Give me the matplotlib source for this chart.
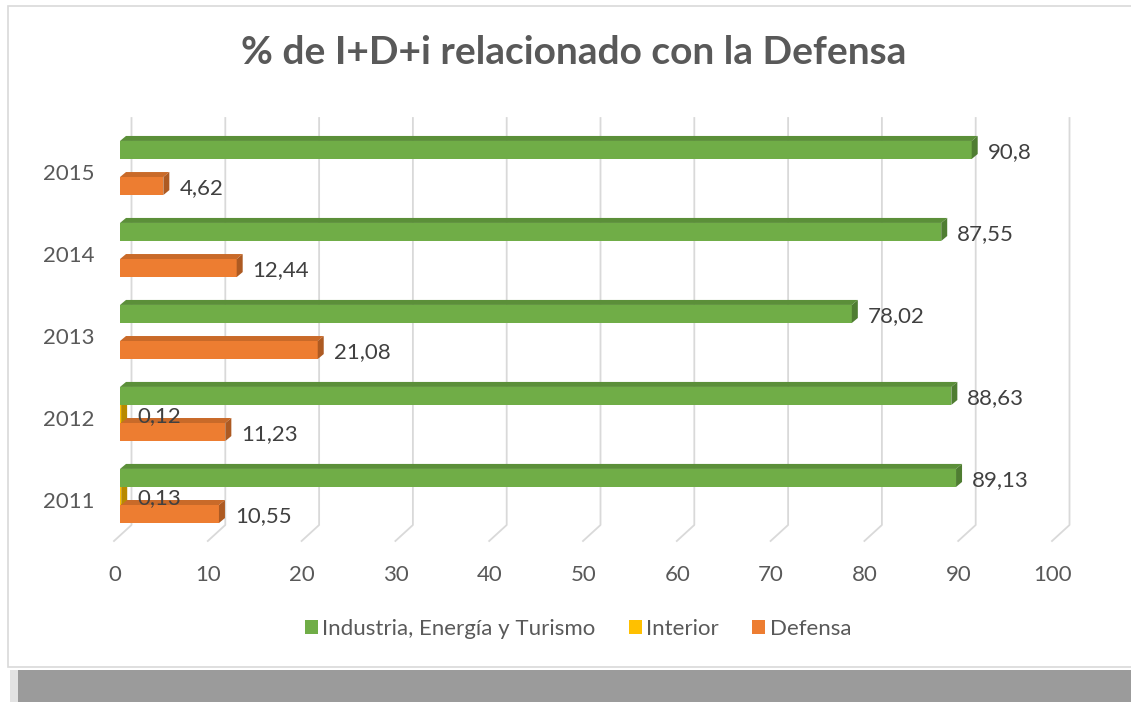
#!/usr/bin/python3

import numpy as np
import matplotlib
matplotlib.use('Agg')
import matplotlib.pyplot as plt
from matplotlib.patches import Polygon, Rectangle, Patch
from matplotlib.transforms import ScaledTranslation

# data (2011 at the bottom)
years = ['2011', '2012', '2013', '2014', '2015']
industria = [89.13, 88.63, 78.02, 87.55, 90.8]
interior = [0.13, 0.12, np.nan, np.nan, np.nan]
defensa = [10.55, 11.23, 21.08, 12.44, 4.62]

series_names = ['Industria, Energía y Turismo', 'Interior', 'Defensa']
front_colors = ['#70ad47', '#ffc000', '#ed7d31']
top_colors = ['#5b8f39', '#d9a300', '#c96a29']
side_colors = ['#4f7d32', '#b88a00', '#ad5a22']

plt.rcParams['font.family'] = ['Lato', 'DejaVu Sans']

W, H = 1131, 702


def fmt(v):
	return ('%g' % v).replace('.', ',')


def main():
	fig = plt.figure(figsize=(W / 100, H / 100), dpi=100)

	# frame of the chart and the grey band below it
	for r in [Rectangle((8 / W, 1 - 667 / H), 1.2, 661 / H, facecolor='white', edgecolor='#d9d9d9', linewidth=1.2),
			Rectangle((10 / W, 0), 1.0, 32 / H, facecolor='#e3e3e3', edgecolor='none'),
			Rectangle((18 / W, 0), 1.0, 32 / H, facecolor='#9b9b9b', edgecolor='none')]:
		r.set_transform(fig.transFigure)
		r.set_zorder(-10)
		fig.patches.append(r)

	left, right, top, bottom = 120, 1058, 118, 541
	ax = fig.add_axes([left / W, 1 - bottom / H, (right - left) / W, (bottom - top) / H])
	ax.set_xlim(0, 100)
	ylo, yhi = -0.549, 4.61
	ax.set_ylim(ylo, yhi)
	for s in ax.spines.values():
		s.set_visible(False)
	ax.patch.set_alpha(0)

	px_x = (right - left) / 100.0
	px_y = (bottom - top) / (yhi - ylo)

	# back wall gridlines with the floor diagonal
	for v in range(0, 101, 10):
		xs = [v + 11.5 / px_x, v + 11.5 / px_x, v - 6 / px_x]
		ys = [yhi, ylo + 16 / px_y, ylo]
		ax.plot(xs, ys, color='#d9d9d9', lw=1.3, clip_on=False, zorder=1)

	pos = np.arange(len(years))
	h = 0.22
	shift = [0.22, 0.0, -0.22]
	dx, dy = 6 / px_x, 5 / px_y
	data = [industria, interior, defensa]

	# draw lower bars first so upper ones cover their top faces
	for k in [2, 1, 0]:
		vals = np.array(data[k], dtype=float)
		yc = pos + shift[k]
		z = 3 + (2 - k)
		ax.barh(yc, np.nan_to_num(vals), height=h, color=front_colors[k], zorder=z + 0.1,
			label=series_names[k])
		for y, w in zip(yc, vals):
			if np.isnan(w):
				continue
			yt, yb = y + h / 2, y - h / 2
			ax.add_patch(Polygon([(0, yt), (w, yt), (w + dx, yt + dy), (dx, yt + dy)],
				closed=True, facecolor=top_colors[k], edgecolor='none', zorder=z))
			ax.add_patch(Polygon([(w, yb), (w, yt), (w + dx, yt + dy), (w + dx, yb + dy)],
				closed=True, facecolor=side_colors[k], edgecolor='none', zorder=z + 0.2))
			ax.annotate(fmt(w), (w, y), xytext=(16, -2), textcoords='offset pixels',
				ha='left', va='center', fontsize=16, color='#404040', zorder=10)

	ax.set_xticks(range(0, 101, 10))
	ax.set_yticks(pos)
	ax.set_yticklabels(years)
	ax.tick_params(length=0, labelsize=16, labelcolor='#595959')
	ax.tick_params(axis='x', pad=17)
	ax.tick_params(axis='y', pad=18)
	for lab in ax.get_xticklabels():
		lab.set_transform(lab.get_transform() + ScaledTranslation(-0.055, 0, fig.dpi_scale_trans))
	for lab in ax.get_yticklabels():
		lab.set_transform(lab.get_transform() + ScaledTranslation(0, -0.04, fig.dpi_scale_trans))

	fig.text(574 / W, 1 - 53 / H, '% de I+D+i relacionado con la Defensa', ha='center', va='center',
		fontsize=28, fontweight='bold', color='#595959')

	handles = [Patch(facecolor=c, edgecolor='none') for c in front_colors]
	fig.legend(handles, series_names, loc='center', bbox_to_anchor=(578 / W, 1 - 629 / H), ncol=3,
		frameon=False, fontsize=16, labelcolor='#595959', handlelength=0.58, handleheight=0.58,
		handletextpad=0.2, columnspacing=1.5)

	fig.savefig('out.png', dpi=100)


if __name__ == '__main__':
	main()
